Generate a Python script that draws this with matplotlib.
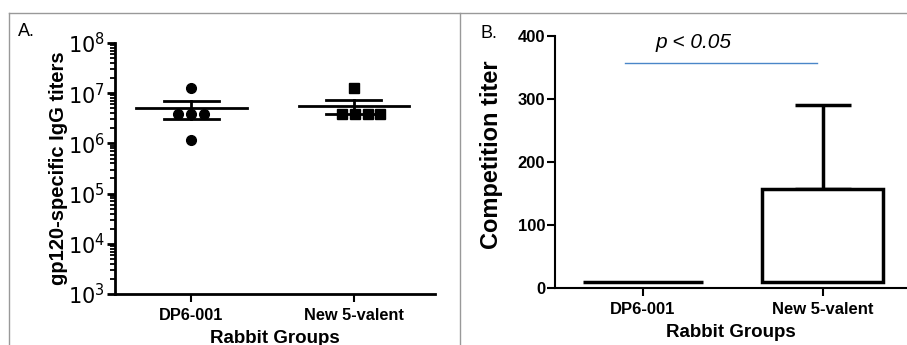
import matplotlib
matplotlib.use("Agg")
import matplotlib.pyplot as plt
import numpy as np
from matplotlib.lines import Line2D
from matplotlib.ticker import NullLocator

plt.rcParams['font.family'] = ['Liberation Sans', 'DejaVu Sans']

groups = ["DP6-001", "New 5-valent"]

# panel A: individual rabbit titers
titers_dp6 = [1.25e7, 3.8e6, 3.8e6, 3.8e6, 1.15e6]
titers_new = [1.26e7, 3.8e6, 3.8e6, 3.8e6, 3.8e6]
jitter_dp6 = [0.0, -0.08, 0.0, 0.08, 0.0]
jitter_new = [0.0, -0.07, 0.01, 0.09, 0.16]

# panel B: competition titer (mean, upper error)
comp_mean = [10, 157]
comp_err = [0, 133]
comp_base = 10
p_text = "p < 0.05"
p_y = 357

W, H = 907, 345
fig = plt.figure(figsize=(W / 100, H / 100), dpi=100)

# panel borders
for x0, y0, x1, y1 in [(9, 13, 9, 345), (9, 13, 907, 13), (460, 13, 460, 345)]:
    fig.add_artist(Line2D([x0 / W, x1 / W], [1 - y0 / H, 1 - y1 / H],
                          color='#999999', lw=1.0, transform=fig.transFigure))

# ---------- panel A ----------
axA = fig.add_axes([115 / W, 1 - 294 / H, 320 / W, 251 / H])
axA.set_yscale('log')
axA.set_ylim(1e3, 1e8)
axA.set_xlim(-0.47, 1.5)
for i, (vals, jit, mk) in enumerate([(titers_dp6, jitter_dp6, 'o'), (titers_new, jitter_new, 's')]):
    vals = np.array(vals)
    m = vals.mean()
    sem = vals.std(ddof=1) / np.sqrt(len(vals))
    axA.plot(i + np.array(jit), vals, mk, color='black', ms=7, zorder=3)
    axA.plot([i - 0.34, i + 0.34], [m, m], color='black', lw=2)
    axA.plot([i - 0.17, i + 0.17], [m + sem, m + sem], color='black', lw=2)
    axA.plot([i - 0.17, i + 0.17], [m - sem, m - sem], color='black', lw=2)
    axA.plot([i, i], [m - sem, m + sem], color='black', lw=2)

axA.spines['top'].set_visible(False)
axA.spines['right'].set_visible(False)
axA.spines['left'].set_linewidth(2)
axA.spines['bottom'].set_linewidth(2)
axA.set_xticks([0, 1])
axA.set_xticklabels(groups, fontsize=11.8, fontweight='bold')
decades = [3, 4, 5, 6, 7, 8]
axA.set_yticks([10.0 ** k for k in decades])
axA.set_yticklabels([r'$10^{%d}$' % k for k in decades], fontsize=15)
axA.yaxis.set_minor_locator(NullLocator())
# minor log ticks drawn as short outward marks on the y axis
minors = [s * 10.0 ** k for k in decades[:-1] for s in range(2, 10)]
axA.hlines(minors, -0.017, 0, transform=axA.get_yaxis_transform(),
           color='black', lw=1.3, clip_on=False)
axA.tick_params(axis='y', which='major', direction='out', length=6, width=2, pad=1)
axA.tick_params(axis='x', which='major', direction='out', length=6, width=1.5, pad=4)
axA.set_xlabel("Rabbit Groups", fontsize=13.5, fontweight='bold', labelpad=5)
axA.set_ylabel("gp120-specific IgG titers", fontsize=14.5, fontweight='bold', labelpad=0)
fig.text(18 / W, 1 - 31 / H, "A.", fontsize=13, va='center', ha='left')

# ---------- panel B ----------
axB = fig.add_axes([555 / W, 1 - 288 / H, 352 / W, 252 / H])
axB.set_ylim(0, 400)
axB.set_xlim(-0.49, 1.47)
heights = [v - comp_base for v in comp_mean]
axB.bar([0, 1], heights, bottom=comp_base, width=0.67, facecolor='white',
        edgecolor='black', linewidth=2.5, zorder=2)
axB.errorbar([1], [comp_mean[1]], yerr=[[0], [comp_err[1]]], fmt='none',
             ecolor='black', elinewidth=2.5, capsize=20.5, capthick=2.5, zorder=1)
axB.plot([-0.1, 0.97], [p_y, p_y], color='#4a86c8', lw=1)
axB.text(0.28, 389, p_text, fontsize=15, style='italic', ha='center', va='center')

axB.spines['top'].set_visible(False)
axB.spines['right'].set_visible(False)
axB.spines['left'].set_linewidth(1.5)
axB.spines['bottom'].set_linewidth(1.5)
axB.set_yticks([0, 100, 200, 300, 400])
axB.set_yticklabels(['0', '100', '200', '300', '400'], fontsize=12, fontweight='bold')
axB.set_xticks([0, 1])
axB.set_xticklabels(groups, fontsize=12, fontweight='bold')
axB.tick_params(axis='y', direction='out', length=6, width=1.5, pad=1)
axB.tick_params(axis='x', direction='out', length=6, width=1.5, pad=4)
axB.set_xlabel("Rabbit Groups", fontsize=13.5, fontweight='bold', labelpad=5)
axB.set_ylabel("Competition titer", fontsize=17, fontweight='bold', labelpad=4)
axB.yaxis.set_label_coords(-0.148, 0.53)
fig.text(480 / W, 1 - 33 / H, "B.", fontsize=13, va='center', ha='left')

fig.savefig("out.png", dpi=100)
